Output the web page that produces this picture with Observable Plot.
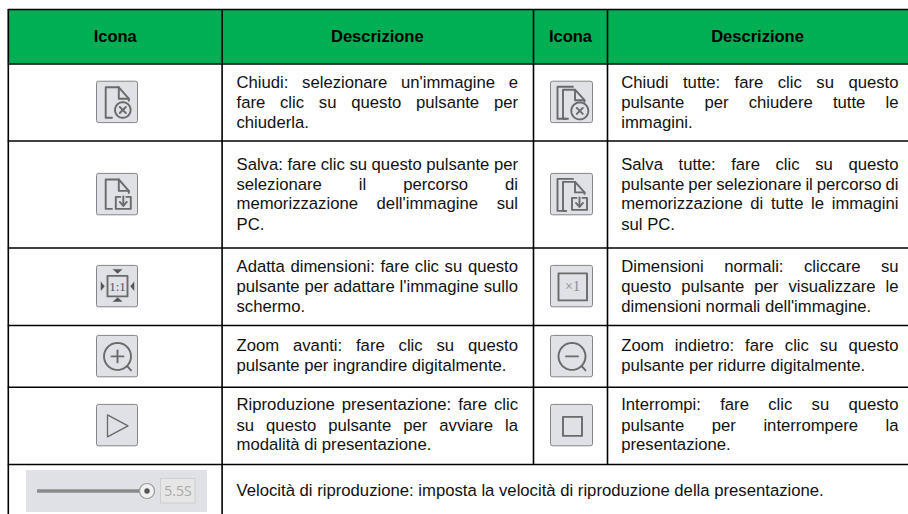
<!DOCTYPE html>
<html><head><meta charset="utf-8">
<script src="https://cdn.jsdelivr.net/npm/d3@7"></script>
<script src="https://cdn.jsdelivr.net/npm/@observablehq/plot@0.6"></script>
<style>html,body{margin:0;padding:0;background:#fff}svg{display:block}</style>
</head><body><script>
const headers = ["Icona","Descrizione","Icona","Descrizione"];
const desc1 = [
 ["Chiudi: selezionare un'immagine e","fare clic su questo pulsante per","chiuderla."],
 ["Salva: fare clic su questo pulsante per","selezionare il percorso di","memorizzazione dell'immagine sul","PC."],
 ["Adatta dimensioni: fare clic su questo","pulsante per adattare l'immagine sullo","schermo."],
 ["Zoom avanti: fare clic su questo","pulsante per ingrandire digitalmente."],
 ["Riproduzione presentazione: fare clic","su questo pulsante per avviare la","modalità di presentazione."]
];
const desc2 = [
 ["Chiudi tutte: fare clic su questo","pulsante per chiudere tutte le","immagini."],
 ["Salva tutte: fare clic su questo","pulsante per selezionare il percorso di","memorizzazione di tutte le immagini","sul PC."],
 ["Dimensioni normali: cliccare su","questo pulsante per visualizzare le","dimensioni normali dell'immagine."],
 ["Zoom indietro: fare clic su questo","pulsante per ridurre digitalmente."],
 ["Interrompi: fare clic su questo","pulsante per interrompere la","presentazione."]
];
const lastRow = "Velocità di riproduzione: imposta la velocità di riproduzione della presentazione.";
const sliderLabel = "5.5S";

const colEdges = [7.8, 221.6, 533, 607, 908];
const rowEdges = [9, 63.5, 140.5, 247.5, 325, 386.7, 464, 514];
const textLeft = [236, 620.7];
const textRight = [517.5, 898];
const lineCentres = [[81.7,101.9,122],[164.6,183.8,203.6,224.4],[266.2,286.4,305.8],[345.4,365.4],[404.4,425.4,444.6]];
const iconLeft = [96.5, 550.5];
const iconTop = [81.2, 173.4, 265.4, 335.4, 404.4];
const bodySize = 16.7;

// icon outlines in the icon's own 41-unit box
const circle = (cx,cy,r)=>[d3.range(0,37).map(i=>[cx+r*Math.cos(i*Math.PI/18),cy+r*Math.sin(i*Math.PI/18)])];
const back = [[[15,37],[6.5,37],[6.5,5],[22,5]]];
const closeMark = (cx,cy)=>[[[cx-3,cy-3],[cx+3,cy+3]],[[cx+3,cy-3],[cx-3,cy+3]]];
const saveMark = (cx,cy)=>[[[cx-3,cy-6],[cx-7.5,cy-6],[cx-7.5,cy+6],[cx+7.5,cy+6],[cx+7.5,cy-6],[cx+3,cy-6]],[[cx,cy-6.5],[cx,cy+2.5]],[[cx-3.5,cy-1],[cx,cy+3],[cx+3.5,cy-1]]];
const iconShapes = [
 {c:0,r:0,paths:[[[15,36],[8.7,36],[8.7,5.6],[21.8,5.6],[31.8,17],[31.8,19]],[[21.8,5.6],[21.8,17],[31.8,17]],...circle(25.8,28.3,7.8),...closeMark(25.8,28.3)]},
 {c:1,r:0,paths:[...back,[[17,37],[12,37],[12,8],[24,8],[33.5,18.5],[33.5,20]],[[24,8],[24,18.5],[33.5,18.5]],...circle(28.8,29.2,8.5),...closeMark(28.8,29.2)]},
 {c:0,r:1,paths:[[[15,35],[8.7,35],[8.7,5.6],[21.8,5.6],[31.8,17],[31.8,19]],[[21.8,5.6],[21.8,17],[31.8,17]],...saveMark(26.3,29)]},
 {c:1,r:1,paths:[...back,[[15,37],[12,37],[12,8],[24,8],[33.5,18.5],[33.5,20]],[[24,8],[24,18.5],[33.5,18.5]],...saveMark(28.5,30)]},
 {c:0,r:2,paths:[[[10.5,10],[30.5,10],[30.5,30.5],[10.5,30.5],[10.5,10]]],tri:[[[16,3.5],[25,3.5],[20.5,7.5]],[[16,35.5],[25,35.5],[20.5,31.5]],[[4,16],[4,24.5],[7.5,20.2]],[[37,16],[37,24.5],[33.5,20.2]]]},
 {c:1,r:2,paths:[[[7.5,7.5],[36,7.5],[36,34.5],[7.5,34.5],[7.5,7.5]]]},
 {c:0,r:3,paths:[...circle(20.5,20.5,13.5),[[30,30],[34,34.5]],[[14.5,20.5],[26.5,20.5]],[[20.5,14.5],[20.5,26.5]]]},
 {c:1,r:3,paths:[...circle(21,20.5,13.5),[[30.5,30],[34.5,34.5]],[[15,20.5],[27,20.5]]]},
 {c:0,r:4,paths:[[[10.5,10],[31,21],[10.5,32],[10.5,10]]],thin:true},
 {c:1,r:4,paths:[[[12,12],[31,12],[31,31],[12,31],[12,12]]]}
];

const cells = headers.map((h,i)=>({x1:colEdges[i],x2:colEdges[i+1],y1:rowEdges[0],y2:rowEdges[1]}));
const hCentres = [114.7,376.8,570,757];
const headerTexts = headers.map((h,i)=>({t:h,x:hCentres[i],y:36}));

const lines=[];
[desc1,desc2].forEach((col,c)=>col.forEach((ls,r)=>ls.forEach((t,l)=>{
  lines.push({t,x:textLeft[c],y:lineCentres[r][l],w:l<ls.length-1?textRight[c]-textLeft[c]:0});
})));
lines.push({t:lastRow,x:textLeft[0],y:490.5,w:0});

const iconBoxes=[], polyl=[], tris=[];
iconShapes.forEach((s,k)=>{
  const L=iconLeft[s.c],T=iconTop[s.r],W=s.c?42:41;
  iconBoxes.push({x1:L,x2:L+W,y1:T,y2:T+41.4});
  s.paths.forEach((p,j)=>p.forEach(([x,y])=>polyl.push({x:L+x,y:T+y,z:k+"-"+j,w:s.thin?1.3:1.9})));
  (s.tri||[]).forEach((p,j)=>p.forEach(([x,y])=>tris.push({x:L+x,y:T+y,z:k+"-"+j})));
});

const ctx2d=document.createElement("canvas").getContext("2d");
ctx2d.font=bodySize+"px 'Liberation Sans'";
// word spacing that fills each justified line out to the column's right edge
const justify = (index, scales, values, dims, ctx, next)=>{
  const g = next(index, scales, values, dims, ctx);
  d3.select(g).selectAll("text").each(function(_,k){
    const w=lines[index[k]].w, t=this.textContent;
    const gaps=(t.match(/ /g)||[]).length;
    if(w&&gaps) this.setAttribute("word-spacing",((w-ctx2d.measureText(t).width)/gaps).toFixed(3));
  });
  return g;
};

const chart = Plot.plot({
  width:908,height:514,margin:0,
  x:{domain:[0,908],range:[0,908],axis:null},
  y:{domain:[0,514],range:[0,514],axis:null},
  style:{background:"#fff"},
  marks:[
    Plot.rect(cells,{x1:"x1",x2:"x2",y1:"y1",y2:"y2",fill:"#00AE53"}),
    Plot.ruleY(rowEdges.slice(0,-1),{x1:colEdges[0],x2:908,stroke:"#000",strokeWidth:1.6}),
    Plot.ruleX([colEdges[0],colEdges[1]],{y1:rowEdges[0],y2:514,stroke:"#000",strokeWidth:1.6}),
    Plot.ruleX([colEdges[2],colEdges[3]],{y1:rowEdges[0],y2:rowEdges[6],stroke:"#000",strokeWidth:1.6}),
    Plot.text(headerTexts,{x:"x",y:"y",text:"t",fontFamily:"Liberation Sans",fontWeight:"bold",fontSize:16.5,fill:"#000"}),
    Plot.text(lines,{x:"x",y:"y",text:"t",textAnchor:"start",fontFamily:"Liberation Sans",fontSize:bodySize,fill:"#111",render:justify}),
    Plot.rect(iconBoxes,{x1:"x1",x2:"x2",y1:"y1",y2:"y2",fill:"#dfe1e6",stroke:"#858585",strokeWidth:1,r:2}),
    Plot.line(polyl,{x:"x",y:"y",z:"z",stroke:"#6a6a6a",strokeWidth:"w",curve:"linear"}),
    Plot.line(tris,{x:"x",y:"y",z:"z",fill:"#555",stroke:"#555",strokeWidth:.5}),
    Plot.text(["1:1"],{x:()=>iconLeft[0]+20.5,y:()=>iconTop[2]+20.7,text:d=>d,fontFamily:"Liberation Serif",fontSize:13,fill:"#555"}),
    Plot.text(["×1"],{x:()=>iconLeft[1]+21.5,y:()=>iconTop[2]+20.7,text:d=>d,fontFamily:"Liberation Serif",fontSize:14,fill:"#8a8a8a"}),
    Plot.rect([{x1:26,x2:207,y1:470,y2:512}],{x1:"x1",x2:"x2",y1:"y1",y2:"y2",fill:"#dfe1e6"}),
    Plot.ruleY([490.5],{x1:37,x2:140,stroke:"#8a8a8a",strokeWidth:3.5}),
    Plot.dot([{x:146.5,y:490.5}],{x:"x",y:"y",r:7.5,fill:"#f1f1f1",stroke:"#9a9a9a",strokeWidth:1.2}),
    Plot.dot([{x:146.5,y:490.5}],{x:"x",y:"y",r:2.7,fill:"#555"}),
    Plot.rect([{x1:160.5,x2:195,y1:478.5,y2:503}],{x1:"x1",x2:"x2",y1:"y1",y2:"y2",fill:"#e6e6e6",stroke:"#cfcfcf"}),
    Plot.text([sliderLabel],{x:()=>177.5,y:()=>491,text:d=>d,fontFamily:"Open Sans",fontSize:14,fill:"#a9a9a9"})
  ]
});
document.body.appendChild(chart);
</script></body></html>
